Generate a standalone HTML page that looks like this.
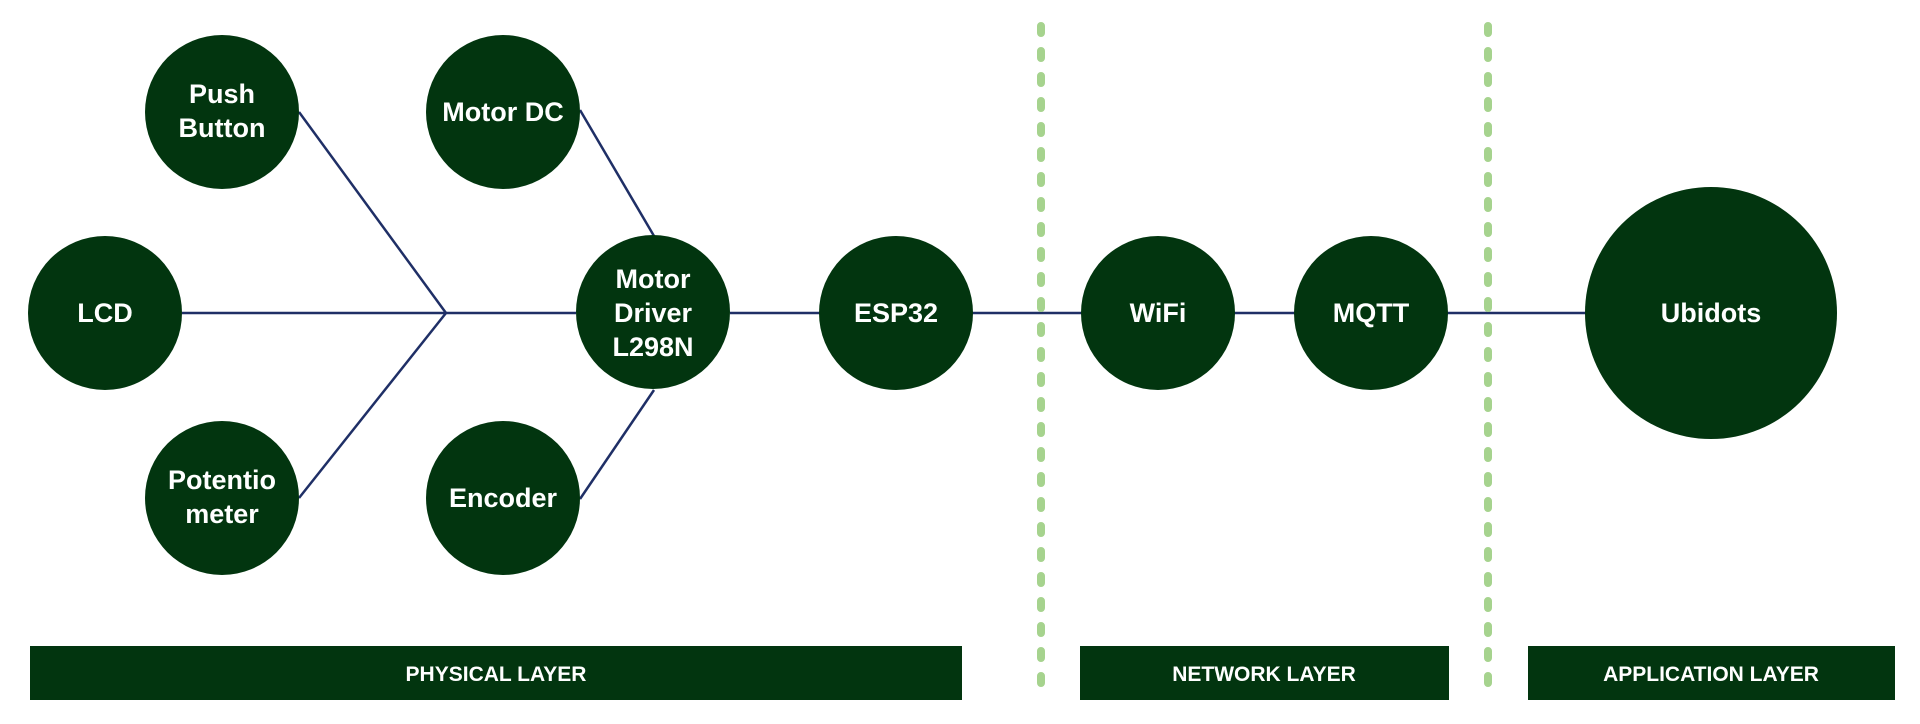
<!DOCTYPE html>
<html><head><meta charset="utf-8"><style>
html,body{margin:0;padding:0;background:#fff;}
svg{display:block;}
text{font-family:"Liberation Sans",Arial,sans-serif;font-weight:bold;fill:#fff;text-anchor:middle;}
</style></head><body>
<svg width="1920" height="724" viewBox="0 0 1920 724" xmlns="http://www.w3.org/2000/svg">
<g stroke="#1f2f66" stroke-width="2.5" fill="none">
<line x1="182" y1="313" x2="576" y2="313"/>
<line x1="299" y1="112" x2="446" y2="313"/>
<line x1="299" y1="498" x2="446" y2="313"/>
<line x1="580" y1="110" x2="654" y2="236"/>
<line x1="580" y1="499" x2="654" y2="390"/>
<line x1="730" y1="313" x2="1586" y2="313"/>
</g>
<g stroke="#a6d38e" stroke-width="8" stroke-linecap="round" stroke-dasharray="7 18">
<line x1="1041" y1="26" x2="1041" y2="700"/>
<line x1="1488" y1="26" x2="1488" y2="700"/>
</g>
<g fill="#02350f">
<circle cx="222" cy="112" r="77"/>
<circle cx="503" cy="112" r="77"/>
<circle cx="105" cy="313" r="77"/>
<circle cx="653" cy="312" r="77"/>
<circle cx="222" cy="498" r="77"/>
<circle cx="503" cy="498" r="77"/>
<circle cx="896" cy="313" r="77"/>
<circle cx="1158" cy="313" r="77"/>
<circle cx="1371" cy="313" r="77"/>
<circle cx="1711" cy="313" r="126"/>
<rect x="30" y="646" width="932" height="54"/>
<rect x="1080" y="646" width="369" height="54"/>
<rect x="1528" y="646" width="367" height="54"/>
</g>
<g font-size="27">
<text x="222" y="103">Push</text><text x="222" y="137">Button</text>
<text x="503" y="121">Motor DC</text>
<text x="105" y="322">LCD</text>
<text x="653" y="288">Motor</text><text x="653" y="322">Driver</text><text x="653" y="356">L298N</text>
<text x="222" y="489">Potentio</text><text x="222" y="523">meter</text>
<text x="503" y="507">Encoder</text>
<text x="896" y="322">ESP32</text>
<text x="1158" y="322">WiFi</text>
<text x="1371" y="322">MQTT</text>
<text x="1711" y="322">Ubidots</text>
</g>
<g font-size="21">
<text x="496" y="681">PHYSICAL LAYER</text>
<text x="1264" y="681">NETWORK LAYER</text>
<text x="1711" y="681">APPLICATION LAYER</text>
</g>
</svg>
</body></html>
